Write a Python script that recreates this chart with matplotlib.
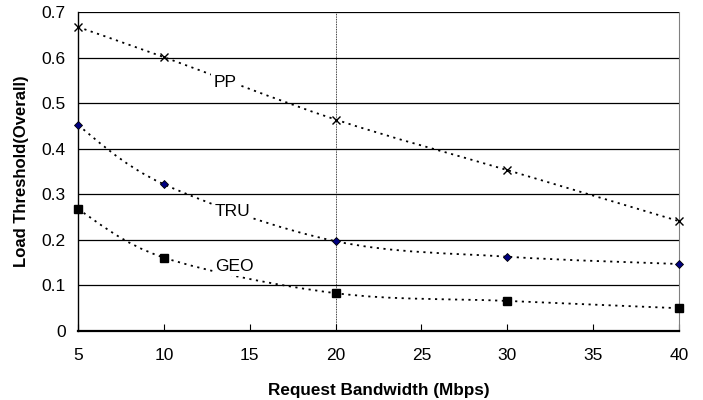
import matplotlib.pyplot as plt
from matplotlib.path import Path
from matplotlib.patches import PathPatch

plt.rcParams['font.family'] = ['Liberation Sans', 'DejaVu Sans']

bandwidth = [5, 10, 20, 30, 40]
pp = [0.667, 0.601, 0.464, 0.353, 0.241]
tru = [0.451, 0.322, 0.197, 0.163, 0.147]
geo = [0.267, 0.161, 0.083, 0.066, 0.050]

x_ticks = [5, 10, 15, 20, 25, 30, 35, 40]
y_ticks = [0, 0.1, 0.2, 0.3, 0.4, 0.5, 0.6, 0.7]
y_labels = ["0", "0.1", "0.2", "0.3", "0.4", "0.5", "0.6", "0.7"]


def smooth_path(xs, ys):
    # Excel-style smoothed line: bezier with control points from neighbours
    verts = [(xs[0], ys[0])]
    codes = [Path.MOVETO]
    n = len(xs)
    for i in range(n - 1):
        x0, y0 = xs[max(i - 1, 0)], ys[max(i - 1, 0)]
        x1, y1 = xs[i], ys[i]
        x2, y2 = xs[i + 1], ys[i + 1]
        x3, y3 = xs[min(i + 2, n - 1)], ys[min(i + 2, n - 1)]
        c1 = (x1 + (x2 - x0) / 6, y1 + (y2 - y0) / 6)
        c2 = (x2 - (x3 - x1) / 6, y2 - (y3 - y1) / 6)
        verts += [c1, c2, (x2, y2)]
        codes += [Path.CURVE4] * 3
    return Path(verts, codes)


fig = plt.figure(figsize=(7.03, 4.0), dpi=100)
ax = fig.add_axes([0.111, 0.1725, 0.855, 0.7975])

for yv in y_ticks[1:]:
    ax.axhline(yv, color="black", linewidth=0.9, zorder=1)
ax.axvline(20, color="black", linewidth=0.6, linestyle=(0, (1, 1)), zorder=1)

for ys in (pp, tru, geo):
    ax.add_patch(PathPatch(smooth_path(bandwidth, ys), fill=False,
                           edgecolor="black", linewidth=1.3,
                           linestyle=(0, (1.2, 2.5)), zorder=2))

ax.plot(bandwidth, pp, linestyle="none", marker="x", color="black",
        markersize=6, markeredgewidth=1.0, zorder=3, clip_on=False)
ax.plot(bandwidth, tru, linestyle="none", marker="D", markerfacecolor="#000080",
        markeredgecolor="black", markersize=4.5, markeredgewidth=0.6,
        zorder=3, clip_on=False)
ax.plot(bandwidth, geo, linestyle="none", marker="s", color="black",
        markersize=6, zorder=3, clip_on=False)

label_box = dict(facecolor="white", edgecolor="none", pad=1.5)
ax.text(13.56, 0.545, "PP", fontsize=12.5, ha="center", va="center", bbox=label_box, zorder=4)
ax.text(14.0, 0.262, "TRU", fontsize=12.5, ha="center", va="center", bbox=label_box, zorder=4)
ax.text(14.1, 0.141, "GEO", fontsize=12.5, ha="center", va="center", bbox=label_box, zorder=4)

ax.set_xlim(5, 40)
ax.set_ylim(0, 0.7)
ax.set_xticks(x_ticks)
ax.set_yticks(y_ticks)
ax.set_yticklabels(y_labels)
ax.tick_params(axis="x", direction="in", length=5, width=0.8, pad=12, labelsize=12.5)
ax.tick_params(axis="y", length=0, pad=9, labelsize=12.5)

ax.spines["top"].set_visible(False)
ax.spines["right"].set_color("#808080")
ax.spines["right"].set_linewidth(0.8)
ax.spines["left"].set_linewidth(1.0)
ax.spines["bottom"].set_linewidth(1.6)

ax.set_xlabel("Request Bandwidth (Mbps)", fontsize=12.3, fontweight="bold", labelpad=15)
ax.set_ylabel("Load Threshold(Overall)", fontsize=12, fontweight="bold", labelpad=9)

fig.savefig("out.png", dpi=100)
